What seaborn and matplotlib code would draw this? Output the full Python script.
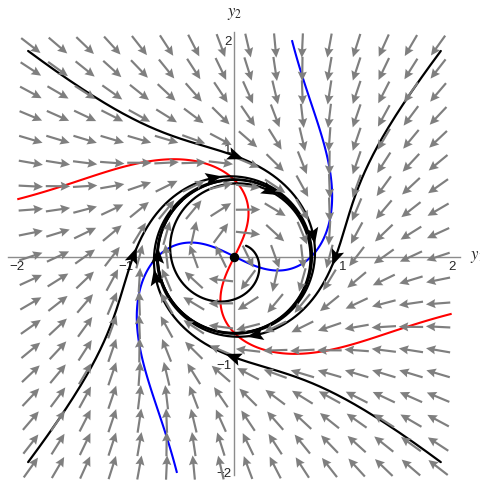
import numpy as np
import matplotlib
matplotlib.use("Agg")
import matplotlib.pyplot as plt
import seaborn as sns

# system: y1' = y2 + y1*(mu - r^2), y2' = -y1 + y2*(mu - r^2)
MU = 0.5

# trajectory start points
start_y1 = [-1.9, 1.9, -1.9, 1.9, 0.106]
start_y2 = [1.9, 1.9, -1.9, -1.9, 0.10]
t_end = [7.0, 7.0, 7.0, 7.0, 11.0]
# times at which an arrowhead sits on each trajectory
arrow_times = [[0.8, 2.1], [0.8, 2.1], [0.8, 2.1], [0.8, 2.1], [5.97, 10.2]]

tick_major = [-2, -1, 1, 2]
tick_labels = ["\u22122", "\u22121", "1", "2"]


def field(y1, y2):
    r2 = y1 ** 2 + y2 ** 2
    return y2 + y1 * (MU - r2), -y1 + y2 * (MU - r2)


def integrate(p0, t1, dt=0.005):
    n = int(t1 / dt)
    out = np.zeros((n + 1, 2))
    out[0] = p0
    p = np.array(p0, dtype=float)
    f = lambda q: np.array(field(q[0], q[1]))
    for i in range(n):
        k1 = f(p)
        k2 = f(p + dt / 2 * k1)
        k3 = f(p + dt / 2 * k2)
        k4 = f(p + dt * k3)
        p = p + dt / 6 * (k1 + 2 * k2 + 2 * k3 + k4)
        out[i + 1] = p
    return out, dt


sns.set_style("white")
plt.rcParams["font.family"] = ["Liberation Sans", "DejaVu Sans"]
plt.rcParams["mathtext.fontset"] = "stix"

fig = plt.figure(figsize=(4.8, 4.83), dpi=100)
ax = fig.add_axes([0, 0, 1, 1])
ax.set_xlim(-2.159, 2.261)
ax.set_ylim(-2.093, 2.371)

# nullclines
gx = np.linspace(-2, 2, 500)
GX, GY = np.meshgrid(gx, gx)
F1, F2 = field(GX, GY)
ax.contour(GX, GY, F1, levels=[0], colors="#0000ff", linewidths=1.5, zorder=1)
ax.contour(GX, GY, F2, levels=[0], colors="#ff0000", linewidths=1.5, zorder=1)

# trajectories
heads = []
for x0, y0, te, ats in zip(start_y1, start_y2, t_end, arrow_times):
    path, dt = integrate((x0, y0), te)
    sns.lineplot(x=path[:, 0], y=path[:, 1], sort=False, estimator=None,
                 color="black", lw=1.6, ax=ax, zorder=2)
    for ta in ats:
        i = int(ta / dt)
        d = path[i + 2] - path[i - 2]
        heads.append((path[i], d / np.linalg.norm(d)))

# direction field
vx = np.linspace(-1.875, 1.875, 16)
vy = np.linspace(-1.95, 1.95, 19)
VX, VY = np.meshgrid(vx, vy)
U, V = field(VX, VY)
N = np.hypot(U, V)
L = 0.225
ax.quiver(VX, VY, U / N * L, V / N * L, angles="xy", scale_units="xy", scale=1,
          units="xy", width=0.02, headwidth=4.2, headlength=4.4, headaxislength=3.9,
          pivot="middle", color="#7f7f7f", zorder=3)

# arrowheads on trajectories
hl, hw = 0.15, 0.06
for p, d in heads:
    nrm = np.array([-d[1], d[0]])
    tip = p + d * hl / 2
    back = tip - d * hl
    tri = np.array([tip, back + nrm * hw, tip - d * hl * 0.8, back - nrm * hw])
    ax.fill(tri[:, 0], tri[:, 1], color="black", zorder=4, lw=0)

ax.plot([0], [0], "o", ms=5.8, color="black", zorder=5)

# axes through origin
for s in ["top", "right"]:
    ax.spines[s].set_visible(False)
ax.spines["left"].set_position(("data", 0))
ax.spines["bottom"].set_position(("data", 0))
ax.spines["bottom"].set_bounds(-2.085, 2.078)
ax.spines["left"].set_bounds(-2.02, 2.074)
for s in ["left", "bottom"]:
    ax.spines[s].set_color("#8c8c8c")
    ax.spines[s].set_linewidth(1.0)
    ax.spines[s].set_zorder(0.5)

ax.set_xticks(tick_major)
ax.set_xticklabels(tick_labels)
ax.set_yticks(tick_major)
ax.set_yticklabels(tick_labels)
minor = [v for v in np.round(np.arange(-2, 2.01, 0.2), 2) if v not in (-2, -1, 0, 1, 2)]
ax.set_xticks(minor, minor=True)
ax.set_yticks(minor, minor=True)
ax.tick_params(which="major", direction="in", length=4.5, width=0.8, color="#8c8c8c",
               labelsize=9.5, pad=3)
ax.tick_params(which="minor", direction="in", length=2.5, width=0.7, color="#8c8c8c")
ax.tick_params(axis="y", pad=2)

ax.text(2.17, -0.005, r"$y_1$", ha="left", va="center", fontsize=12)
ax.text(0, 2.24, r"$y_2$", ha="center", va="center", fontsize=12)

fig.savefig("out.png", dpi=100)
